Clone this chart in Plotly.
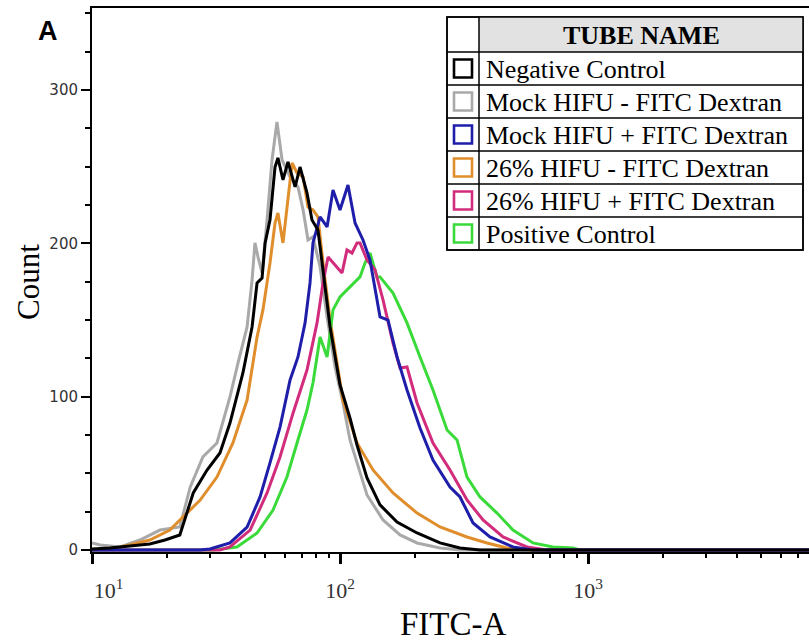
import plotly.graph_objects as go

# ---------------- data (FITC-A intensity, event count) ----------------
neg_x = [10, 11.8, 14.2, 17.1, 19.7, 22.6, 25.6, 29.1, 32.8, 36.0, 40.6, 44.2, 46.3, 48.5, 49.9, 52.2,
         54.7, 56.2, 58.9, 61.7, 65.9, 69.0, 73.6, 77.1, 81.5, 85.4, 91.2, 100, 109.7, 117.1, 128.5,
         145.0, 169.8, 204.5, 253.1, 304.7, 366.9, 8000]
neg_y = [0.7, 1.3, 2.6, 3.9, 6.5, 9.8, 37.2, 52.2, 63.3, 82.8, 115.5, 145.5, 174.2, 177.4, 200.3, 215.3,
         249.8, 255.7, 241.4, 253.1, 236.8, 249.8, 232.9, 215.3, 208.7, 182.7, 145.5, 107.6, 86.1, 68.5, 47.0,
         29.4, 18.3, 11.1, 4.6, 1.3, 0, 0]

mock_neg_x = [10, 10.8, 13.0, 15.6, 18.8, 22.6, 24.9, 28.0, 31.9, 36.0, 38.8, 42.2, 44.2, 45.4, 46.7,
              48.5, 50.8, 53.2, 55.7, 58.4, 62.9, 67.7, 71.0, 74.3, 77.8, 83.1, 88.7, 95.5, 102.8, 109.7,
              128.5, 149.1, 174.6, 204.5, 253.1, 304.7, 8000]
mock_neg_y = [4.6, 3.3, 2.0, 6.5, 13.0, 15.0, 41.1, 60.7, 69.8, 99.8, 122.0, 145.5, 176.1, 200.3, 191.1,
              180.7, 215.3, 254.4, 279.2, 254.4, 243.3, 236.8, 221.8, 202.2, 204.2, 184.6, 152.0, 119.4, 95.9, 71.8,
              35.9, 19.6, 9.8, 4.6, 1.3, 0, 0]

mock_pos_x = [10, 27.3, 29.9, 36.0, 42.2, 47.6, 52.2, 57.3, 62.9, 67.7, 72.3, 75.7, 77.8, 83.1, 88.7,
              93.7, 100, 107.7, 115.0, 123.8, 132.1, 145.0, 156.2, 169.8, 186.3, 210.2, 237.1, 277.7, 304.7,
              343.9, 402.5, 498.4, 600, 8000]
mock_pos_y = [0, 0, 0.7, 4.6, 15.0, 34.6, 56.8, 80.2, 110.9, 125.9, 148.1, 174.2, 200.3, 217.2, 210.7,
              234.8, 221.8, 238.1, 213.3, 202.2, 189.2, 152.0, 150.0, 125.9, 104.4, 79.6, 58.7, 41.1, 34.6,
              17.6, 8.5, 2.0, 0, 0]

hifu_neg_x = [10, 11.8, 14.2, 17.1, 20.6, 27.3, 31.9, 37.0, 42.2, 46.3, 48.9, 52.2, 54.7, 56.2, 58.9,
              61.7, 64.1, 67.1, 71.0, 74.3, 77.8, 81.5, 85.4, 91.2, 102.8, 117.1, 135.9, 163.6, 204.5, 253.1,
              325.2, 391.5, 471.4, 590, 8000]
hifu_neg_y = [0, 0.7, 3.3, 6.5, 13.0, 32.6, 47.6, 69.8, 97.8, 138.9, 156.6, 187.2, 213.3, 219.8, 200.3,
              230.3, 252.4, 245.9, 243.3, 223.7, 221.8, 217.2, 187.2, 150.0, 97.8, 69.8, 52.2, 37.2, 24.1, 15.0,
              8.5, 4.6, 1.3, 0, 0]

hifu_pos_x = [10, 32.8, 36.0, 43.4, 50.8, 57.3, 64.7, 73.6, 80.8, 85.4, 89.5, 93.7, 101.9, 106.7, 111.8,
              117.1, 120.4, 128.5, 138.4, 149.1, 163.6, 174.6, 186.3, 204.5, 237.1, 277.7, 325.2, 377.3,
              454.3, 567.5, 683.5, 8000]
hifu_pos_y = [0, 0, 2.0, 13.0, 37.2, 60.7, 89.4, 117.4, 148.1, 174.2, 191.1, 187.2, 180.7, 195.7, 193.7,
              200.3, 200.3, 189.2, 182.7, 163.1, 135.0, 118.7, 119.4, 95.9, 69.8, 52.2, 32.6, 19.6,
              8.5, 2.0, 0, 0]

pos_x = [10, 30.8, 38.4, 46.3, 53.7, 61.1, 67.1, 73.6, 77.8, 83.1, 88.7, 93.7, 100, 106.7, 120.4,
         126.1, 132.1, 141.0, 145.0, 163.6, 186.3, 210.2, 237.1, 270.2, 296.4, 325.2, 366.9, 429.6,
         498.4, 600.1, 722.6, 870, 928.5, 8000]
pos_y = [0, 0, 2.0, 11.1, 26.1, 47.6, 69.8, 91.3, 108.9, 138.9, 125.9, 156.6, 165.0, 169.6, 178.1,
         187.2, 193.7, 178.1, 178.1, 167.6, 148.1, 125.9, 104.4, 78.3, 71.8, 47.6, 34.6, 24.1,
         13.0, 4.6, 2.0, 1.3, 0, 0]

tube_names = ["Negative Control", "Mock HIFU - FITC Dextran", "Mock HIFU + FITC Dextran",
              "26% HIFU - FITC Dextran", "26% HIFU + FITC Dextran", "Positive Control"]
y_tick_vals = [0, 100, 200, 300]
x_tick_vals = [10, 100, 1000]
x_tick_text = ["&nbsp;&nbsp;&nbsp;&nbsp;&nbsp;&nbsp;10<sup>1</sup>", "10<sup>2</sup>", "10<sup>3</sup>"]
x_minor_vals = [2, 3, 4, 5, 6, 7, 8, 9]

# ---------------- styles ----------------
colors = {
    "Negative Control": "#000000",
    "Mock HIFU - FITC Dextran": "#a9a9a9",
    "Mock HIFU + FITC Dextran": "#1e1eaa",
    "26% HIFU - FITC Dextran": "#e08e2c",
    "26% HIFU + FITC Dextran": "#d22c7c",
    "Positive Control": "#3ada3a",
}
series = {
    "Negative Control": (neg_x, neg_y),
    "Mock HIFU - FITC Dextran": (mock_neg_x, mock_neg_y),
    "Mock HIFU + FITC Dextran": (mock_pos_x, mock_pos_y),
    "26% HIFU - FITC Dextran": (hifu_neg_x, hifu_neg_y),
    "26% HIFU + FITC Dextran": (hifu_pos_x, hifu_pos_y),
    "Positive Control": (pos_x, pos_y),
}
draw_order = ["Mock HIFU - FITC Dextran", "26% HIFU - FITC Dextran", "Positive Control",
              "26% HIFU + FITC Dextran", "Mock HIFU + FITC Dextran", "Negative Control"]

W, H = 809, 642
L, R, T, B = 92, 0, 8, 90
PW, PH = W - L - R, H - T - B
XRANGE = [1, 1 + PW / 248.0]


def px(x):
    return (x - L) / PW


def py(y):
    return (H - B - y) / PH


fig = go.Figure()
for name in draw_order:
    xs, ys = series[name]
    fig.add_trace(go.Scatter(x=xs, y=ys, mode="lines", name=name,
                             line=dict(color=colors[name], width=3), showlegend=False))

# invisible helper trace so the minor-tick overlay axis is drawn
minor_x = [m * d for d in (10, 100, 1000) for m in x_minor_vals]
fig.add_trace(go.Scatter(x=[10], y=[0], xaxis="x2", mode="lines", showlegend=False,
                         hoverinfo="skip", line=dict(width=0)))

fig.update_layout(
    width=W, height=H,
    margin=dict(l=L, r=R, t=T, b=B),
    paper_bgcolor="white", plot_bgcolor="white",
    xaxis=dict(type="log", range=XRANGE, showgrid=False, zeroline=False,
               showline=True, linecolor="black", linewidth=2, mirror=True,
               ticks="outside", ticklen=10, tickwidth=2.5, tickcolor="black",
               tickvals=x_tick_vals, ticktext=x_tick_text, ticklabelstandoff=8,
               tickfont=dict(family="Liberation Serif", size=22, color="#333")),
    xaxis2=dict(type="log", range=XRANGE, overlaying="x", side="bottom", showgrid=False,
                zeroline=False, showline=False, ticks="outside", ticklen=5, tickwidth=1.5,
                tickcolor="black", tickvals=minor_x, showticklabels=False),
    yaxis=dict(range=[-1.3, 353.5], showgrid=False, zeroline=False,
               showline=True, linecolor="black", linewidth=2,
               ticks="outside", ticklen=9, tickwidth=2, tickcolor="black",
               tickvals=y_tick_vals,
               tickfont=dict(family="DejaVu Sans", size=15, color="#333"),
               minor=dict(dtick=25, ticks="outside", ticklen=5, tickwidth=1.5,
                          tickcolor="black", showgrid=False)),
)

shapes = []
annots = []


def note(x, y, text, size, family="Liberation Serif", xanchor="center", angle=0, color="black"):
    annots.append(dict(x=px(x), y=py(y), xref="paper", yref="paper", text=text, showarrow=False,
                       xanchor=xanchor, yanchor="middle", textangle=angle,
                       font=dict(family=family, size=size, color=color)))


# panel letter and axis titles
note(48, 31, "<b>A</b>", 27, family="Liberation Sans")
note(28, 282, "Count", 31, angle=-90)
note(453, 624, "FITC-A", 33)

# legend table
tx0, tx1, tdiv = 447, 803, 479
ty0, thead = 17, 52
row_h = 33
ty1 = thead + row_h * len(tube_names)
shapes.append(dict(type="rect", xref="paper", yref="paper", x0=px(tx0), x1=px(tx1), y0=py(ty0), y1=py(ty1),
                   line=dict(color="black", width=1.5), fillcolor="white", layer="above"))
shapes.append(dict(type="rect", xref="paper", yref="paper", x0=px(tdiv), x1=px(tx1), y0=py(ty0), y1=py(thead),
                   line=dict(width=0), fillcolor="#e2e2e2", layer="above"))
shapes.append(dict(type="rect", xref="paper", yref="paper", x0=px(tx0), x1=px(tx1), y0=py(ty0), y1=py(ty1),
                   line=dict(color="black", width=1.5), fillcolor="rgba(0,0,0,0)", layer="above"))
shapes.append(dict(type="line", xref="paper", yref="paper", x0=px(tdiv), x1=px(tdiv), y0=py(ty0), y1=py(ty1),
                   line=dict(color="black", width=1.5), layer="above"))
for i in range(len(tube_names)):
    yb = thead + row_h * i
    shapes.append(dict(type="line", xref="paper", yref="paper", x0=px(tx0), x1=px(tx1), y0=py(yb), y1=py(yb),
                       line=dict(color="black", width=1.5), layer="above"))
note((tdiv + tx1) / 2, (ty0 + thead) / 2 + 1, "<b>TUBE NAME</b>", 26)
for i, name in enumerate(tube_names):
    yc = thead + row_h * i + row_h / 2
    shapes.append(dict(type="rect", xref="paper", yref="paper", x0=px(454), x1=px(472),
                       y0=py(yc - 9), y1=py(yc + 9), line=dict(color=colors[name], width=2.6),
                       fillcolor="white", layer="above"))
    note(484, yc + 1, name, 26, xanchor="left")

fig.update_layout(shapes=shapes, annotations=annots)
fig.write_html("out.html")
